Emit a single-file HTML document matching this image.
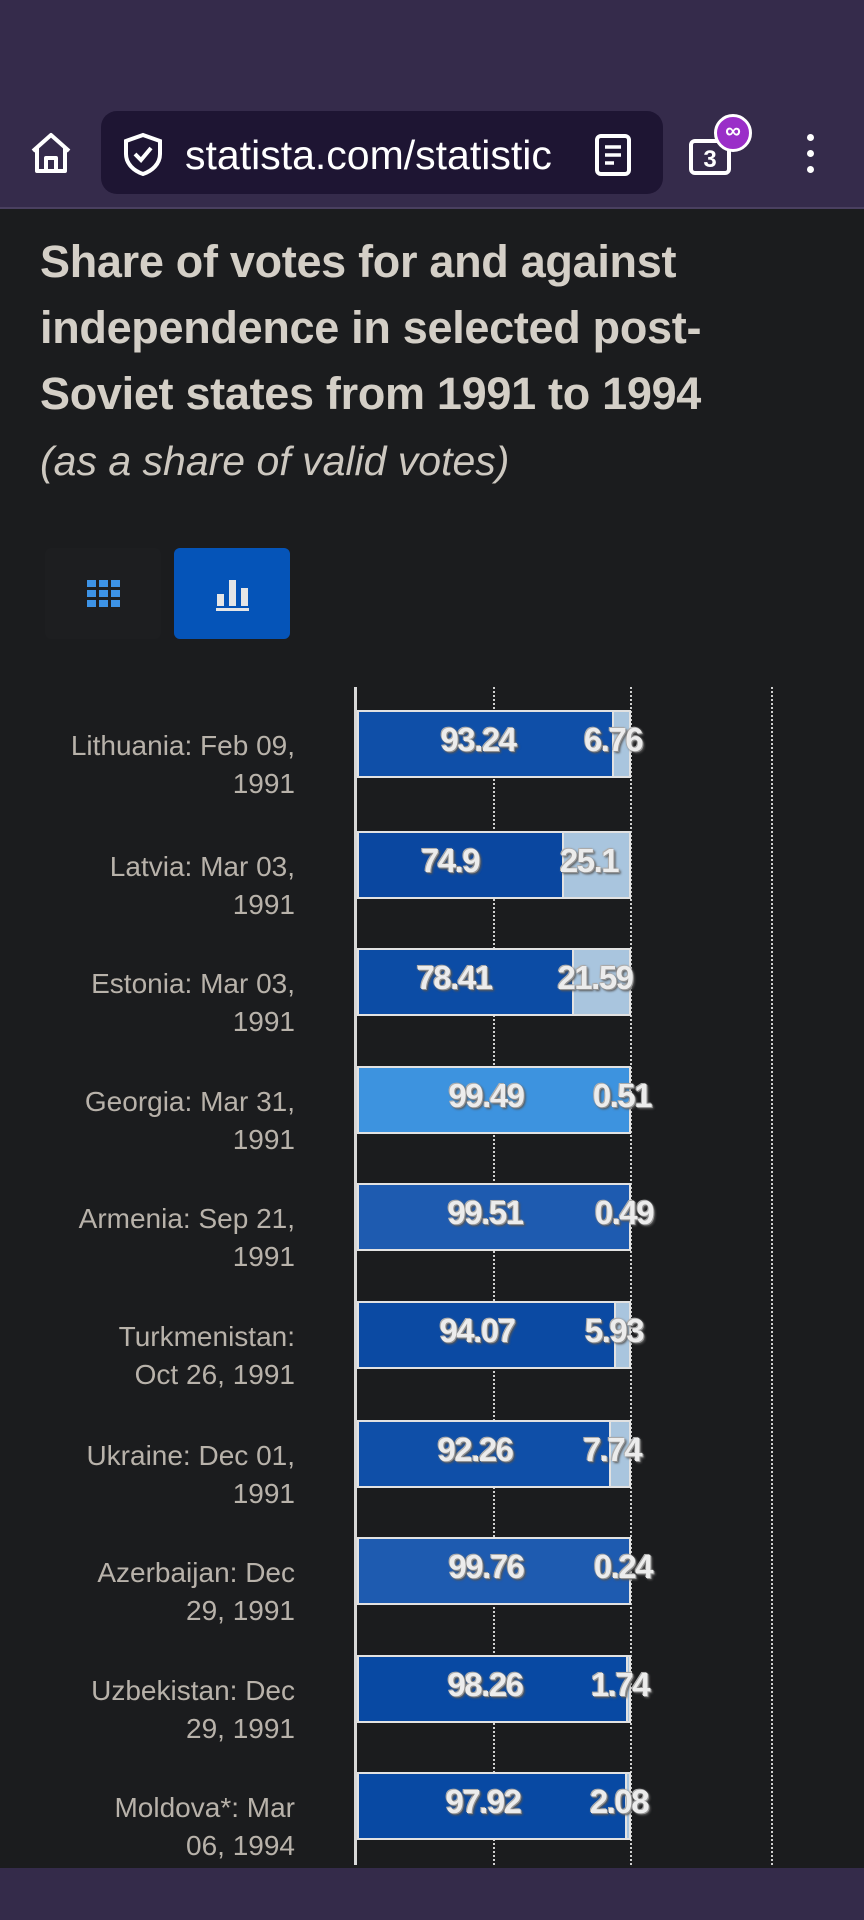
<!DOCTYPE html>
<html><head><meta charset="utf-8"><style>
*{margin:0;padding:0;box-sizing:border-box}
body{width:864px;height:1920px;background:#1b1c1e;position:relative;overflow:hidden;font-family:"Liberation Sans",sans-serif}
.a{position:absolute}
.lbl{position:absolute;right:569px;width:290px;text-align:right;color:#b8b2aa;font-size:28px;line-height:38px;white-space:nowrap}
.bar{position:absolute;left:357px;width:274px;height:68px;border:2px solid #e2e2e2;background:#a9c5de;overflow:hidden}
.bar i{position:absolute;left:0;top:0;bottom:0;border-right:2px solid #e2e2e2}
.v{position:absolute;width:140px;text-align:center;font-weight:bold;font-size:33px;line-height:36px;color:#ececec;letter-spacing:-1.5px;text-shadow:0 0 2px #888,1px 1px 0 #999,2px 2px 2px #555,-1px -1px 0 #bbb}
.g{position:absolute;top:687px;height:1178px;width:0;border-left:2px dotted #cfcfcf}
</style></head><body>
<div class="a" style="left:0;top:0;width:864px;height:209px;background:#352b4b"></div>
<div class="a" style="left:0;top:207px;width:864px;height:2px;background:#4a4060"></div>
<svg class="a" style="left:28px;top:130px" width="46" height="46" viewBox="0 0 46 46"><path d="M5 21 L23 5 L41 21 M9 18 V41 H37 V18 M18 41 V28 H28 V41" fill="none" stroke="#fff" stroke-width="4" stroke-linejoin="round"/></svg>
<div class="a" style="left:101px;top:111px;width:562px;height:83px;background:#1e1533;border-radius:16px"></div>
<svg class="a" style="left:122px;top:132px" width="42" height="44" viewBox="0 0 42 44"><path d="M21 3 L38 9 V22 C38 32 30 39 21 42 C12 39 4 32 4 22 V9 Z" fill="none" stroke="#fff" stroke-width="4"/><path d="M13 22 L19 28 L29 16" fill="none" stroke="#fff" stroke-width="4"/></svg>
<div class="a" style="left:185px;top:130px;color:#fff;font-size:41px;line-height:50px;white-space:nowrap;width:385px;overflow:hidden">statista.com/statistic</div>
<svg class="a" style="left:594px;top:133px" width="38" height="44" viewBox="0 0 38 44"><rect x="3" y="3" width="32" height="38" rx="4" fill="none" stroke="#fff" stroke-width="4"/><path d="M11 14H27M11 22H27M11 30H20" stroke="#fff" stroke-width="3.5"/></svg>
<svg class="a" style="left:688px;top:138px" width="46" height="38" viewBox="0 0 46 38"><rect x="3" y="3" width="38" height="32" rx="4" fill="none" stroke="#fff" stroke-width="4"/><text x="22" y="29" font-family="Liberation Sans" font-size="24" font-weight="bold" fill="#fff" text-anchor="middle">3</text></svg>
<div class="a" style="left:714px;top:114px;width:38px;height:38px;border-radius:50%;background:#9a2ec8;border:3px solid #fff;color:#fff;font-size:22px;font-weight:bold;text-align:center;line-height:28px">∞</div>
<div class="a" style="left:807px;top:134px;width:7px;height:7px;background:#fff;border-radius:50%"></div>
<div class="a" style="left:807px;top:150px;width:7px;height:7px;background:#fff;border-radius:50%"></div>
<div class="a" style="left:807px;top:166px;width:7px;height:7px;background:#fff;border-radius:50%"></div>

<div class="a" style="left:40px;top:229px;width:820px;color:#d4cfc7;font-weight:bold;font-size:45px;line-height:66px;letter-spacing:-0.3px;white-space:nowrap">Share of votes for and against<br>independence in selected post-<br>Soviet states from 1991 to 1994</div>
<div class="a" style="left:40px;top:436px;color:#cdc8c0;font-style:italic;font-size:41px;line-height:50px;white-space:nowrap">(as a share of valid votes)</div>

<div class="a" style="left:45px;top:548px;width:116px;height:91px;background:#1d1e20;border-radius:6px"></div>
<svg class="a" style="left:87px;top:580px" width="34" height="28" viewBox="0 0 34 28"><g fill="#3d93e6"><rect x="0" y="0" width="9" height="7"/><rect x="12" y="0" width="9" height="7"/><rect x="24" y="0" width="9" height="7"/><rect x="0" y="10" width="9" height="7"/><rect x="12" y="10" width="9" height="7"/><rect x="24" y="10" width="9" height="7"/><rect x="0" y="20" width="9" height="7"/><rect x="12" y="20" width="9" height="7"/><rect x="24" y="20" width="9" height="7"/></g></svg>
<div class="a" style="left:174px;top:548px;width:116px;height:91px;background:#0554b8;border-radius:6px"></div>
<svg class="a" style="left:216px;top:574px" width="34" height="38" viewBox="0 0 34 38"><g fill="#e6e6e6"><rect x="1" y="20" width="7" height="12"/><rect x="13" y="6" width="7" height="26"/><rect x="25" y="14" width="7" height="18"/><rect x="0" y="34" width="33" height="3"/></g></svg>

<div class="g" style="left:493px"></div>
<div class="g" style="left:630px"></div>
<div class="g" style="left:771px"></div>
<div class="a" style="left:354px;top:687px;width:3px;height:1178px;background:#d8d8d8"></div>

<div class="lbl" style="top:727px">Lithuania: Feb 09,<br>1991</div>
<div class="bar" style="top:710px"><i style="width:255px;background:#0f4fa8"></i></div>
<div class="v" style="left:408px;top:722px">93.24</div><div class="v" style="left:543px;top:722px">6.76</div>

<div class="lbl" style="top:848px">Latvia: Mar 03,<br>1991</div>
<div class="bar" style="top:831px"><i style="width:205px;background:#0a47a0"></i></div>
<div class="v" style="left:380px;top:843px">74.9</div><div class="v" style="left:519px;top:843px">25.1</div>

<div class="lbl" style="top:965px">Estonia: Mar 03,<br>1991</div>
<div class="bar" style="top:948px"><i style="width:215px;background:#0c4ca5"></i></div>
<div class="v" style="left:384px;top:960px">78.41</div><div class="v" style="left:525px;top:960px">21.59</div>

<div class="lbl" style="top:1083px">Georgia: Mar 31,<br>1991</div>
<div class="bar" style="top:1066px"><i style="width:272px;background:#3d93df"></i></div>
<div class="v" style="left:416px;top:1078px">99.49</div><div class="v" style="left:552px;top:1078px">0.51</div>

<div class="lbl" style="top:1200px">Armenia: Sep 21,<br>1991</div>
<div class="bar" style="top:1183px"><i style="width:272px;background:#1e5bb0"></i></div>
<div class="v" style="left:415px;top:1195px">99.51</div><div class="v" style="left:554px;top:1195px">0.49</div>

<div class="lbl" style="top:1318px">Turkmenistan:<br>Oct 26, 1991</div>
<div class="bar" style="top:1301px"><i style="width:257px;background:#0b4aa3"></i></div>
<div class="v" style="left:407px;top:1313px">94.07</div><div class="v" style="left:544px;top:1313px">5.93</div>

<div class="lbl" style="top:1437px">Ukraine: Dec 01,<br>1991</div>
<div class="bar" style="top:1420px"><i style="width:252px;background:#0f4fa8"></i></div>
<div class="v" style="left:405px;top:1432px">92.26</div><div class="v" style="left:542px;top:1432px">7.74</div>

<div class="lbl" style="top:1554px">Azerbaijan: Dec<br>29, 1991</div>
<div class="bar" style="top:1537px"><i style="width:273px;background:#1e5bb0"></i></div>
<div class="v" style="left:416px;top:1549px">99.76</div><div class="v" style="left:553px;top:1549px">0.24</div>

<div class="lbl" style="top:1672px">Uzbekistan: Dec<br>29, 1991</div>
<div class="bar" style="top:1655px"><i style="width:269px;background:#0849a3"></i></div>
<div class="v" style="left:415px;top:1667px">98.26</div><div class="v" style="left:550px;top:1667px">1.74</div>

<div class="lbl" style="top:1789px">Moldova*: Mar<br>06, 1994</div>
<div class="bar" style="top:1772px"><i style="width:268px;background:#0849a3"></i></div>
<div class="v" style="left:413px;top:1784px">97.92</div><div class="v" style="left:549px;top:1784px">2.08</div>

<div class="a" style="left:0;top:1868px;width:864px;height:52px;background:#342b4a"></div>
</body></html>
